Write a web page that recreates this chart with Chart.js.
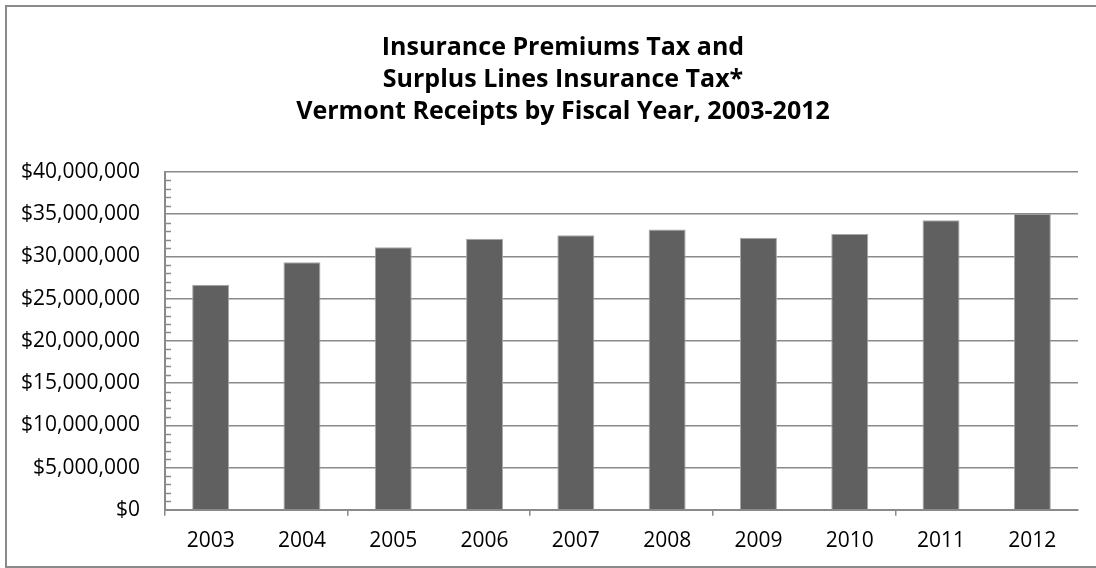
<!DOCTYPE html>
<html>
<head>
<meta charset="utf-8">
<script src="https://cdn.jsdelivr.net/npm/chart.js@4"></script>
<style>
  html, body { margin: 0; padding: 0; background: #fff; overflow: hidden; }
  #wrap { width: 1096px; height: 568px; }
</style>
</head>
<body>
<div id="wrap"><canvas id="myChart" width="1096" height="568"></canvas></div>
<script>
const titleLines = [
  'Insurance Premiums Tax and',
  'Surplus Lines Insurance Tax*',
  'Vermont Receipts by Fiscal Year, 2003-2012'
]

const years = ['2003', '2004', '2005', '2006', '2007', '2008', '2009', '2010', '2011', '2012']

// receipts in dollars
const receipts = [26650000, 29300000, 31100000, 32100000, 32500000, 33200000, 32200000, 32650000, 34300000, 35050000]

const yMin = 0
const yMax = 40000000
const yStep = 5000000
const yMinorStep = 1000000

const gray = '#8a8a8a'
const labelFont = { family: 'Open Sans', size: 21 }

function money(v) {
  return '$' + Number(v).toLocaleString('en-US')
}

// frame round the whole chart
const frame = {
  id: 'frame',
  afterDraw(chart) {
    const ctx = chart.ctx
    ctx.save()
    ctx.strokeStyle = gray
    ctx.lineWidth = 2
    ctx.strokeRect(6, 6, chart.width + 10, 561)
    ctx.restore()
  }
}

// nudge the title a little to the right of the canvas centre
const titleShift = {
  id: 'titleShift',
  afterLayout(chart) {
    const t = chart.titleBlock
    if (!t) return
    t.left += 14
    t.right += 14
  }
}

// short minor ticks on the inside of the value axis
const minorTicks = {
  id: 'minorTicks',
  afterDatasetsDraw(chart) {
    const y = chart.scales.y
    const left = chart.chartArea.left
    const ctx = chart.ctx
    ctx.save()
    ctx.strokeStyle = gray
    ctx.lineWidth = 1.5
    for (let v = yMin; v <= yMax; v += yMinorStep) {
      if (v % yStep === 0) continue
      const py = Math.round(y.getPixelForValue(v)) + 0.5
      ctx.beginPath()
      ctx.moveTo(left, py)
      ctx.lineTo(left + 6, py)
      ctx.stroke()
    }
    ctx.restore()
  }
}

const data = {
  labels: years,
  datasets: [{
    label: 'Receipts',
    data: receipts,
    backgroundColor: '#606060',
    borderColor: '#a8a8a8',
    borderWidth: 1,
    categoryPercentage: 1,
    barPercentage: 0.405
  }]
}

const config = {
  type: 'bar',
  data: data,
  options: {
    responsive: false,
    animation: false,
    layout: { padding: { left: 20, right: 18, top: 0, bottom: 1 } },
    plugins: {
      legend: { display: false },
      tooltip: { enabled: false },
      title: {
        display: true,
        text: titleLines,
        color: '#000',
        font: { family: 'Open Sans', size: 25, weight: 'bold', lineHeight: 32 / 25 },
        padding: { top: 32, bottom: 44 }
      }
    },
    scales: {
      x: {
        grid: {
          display: true,
          drawOnChartArea: false,
          drawTicks: true,
          tickLength: 6,
          lineWidth: 1.5,
          color: ctx => (ctx.index % 2 === 0 ? gray : 'rgba(0,0,0,0)')
        },
        border: { display: true, color: gray, width: 2 },
        ticks: { color: '#000', font: labelFont, padding: 13 }
      },
      y: {
        min: yMin,
        max: yMax,
        afterFit: s => { s.width = 145 },
        grid: {
          drawTicks: false,
          lineWidth: 1.5,
          color: gray
        },
        border: { display: true, color: gray, width: 2 },
        ticks: {
          stepSize: yStep,
          color: '#000',
          font: labelFont,
          padding: 25,
          callback: v => money(v)
        }
      }
    }
  },
  plugins: [frame, titleShift, minorTicks]
}

const myChart = new Chart(
  document.getElementById('myChart'),
  config
)
</script>
</body>
</html>
